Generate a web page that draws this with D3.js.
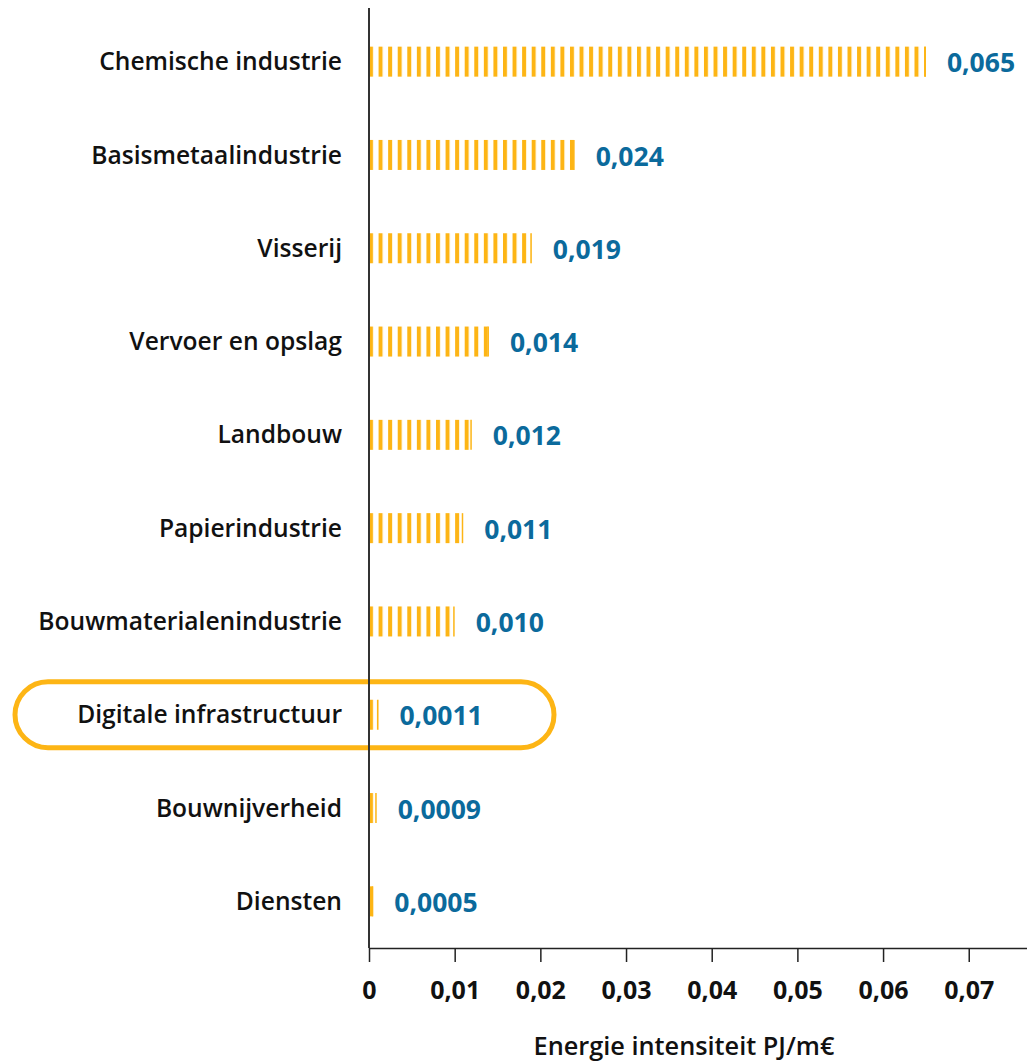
<!DOCTYPE html>
<html><head><meta charset="utf-8">
<script src="https://cdn.jsdelivr.net/npm/d3@7"></script>
<style>body{margin:0;background:#fff}svg{display:block}text{font-family:"Open Sans",sans-serif}</style>
</head><body><svg id="c" width="1027" height="1062"></svg>
<script>
const categories = ["Chemische industrie","Basismetaalindustrie","Visserij","Vervoer en opslag","Landbouw","Papierindustrie","Bouwmaterialenindustrie","Digitale infrastructuur","Bouwnijverheid","Diensten"];
const values = [0.065,0.024,0.019,0.014,0.012,0.011,0.010,0.0011,0.0009,0.0005];
const valueLabels = ["0,065","0,024","0,019","0,014","0,012","0,011","0,010","0,0011","0,0009","0,0005"];
const tickValues = [0,0.01,0.02,0.03,0.04,0.05,0.06,0.07];
const tickLabels = ["0","0,01","0,02","0,03","0,04","0,05","0,06","0,07"];
const highlighted = "Digitale infrastructuur";
const axisTitle = "Energie intensiteit PJ/m€";

const svg = d3.select("#c");
const X0 = 369, X1 = 1027, Y0 = 15, Y1 = 948;
const x = d3.scaleLinear().domain([0, 0.0768]).range([X0, X1]);
const y = d3.scaleBand().domain(categories).range([Y0, Y1]).paddingInner(0.68).paddingOuter(0.34);
const ORANGE = "#FDB515", BLUE = "#0B6A9C";

const defs = svg.append("defs");
const pat = defs.append("pattern").attr("id","stripes").attr("patternUnits","userSpaceOnUse")
  .attr("x", X0).attr("y", 0).attr("width", 9.57).attr("height", 10);
pat.append("rect").attr("x",0).attr("y",0).attr("width",4).attr("height",10).attr("fill",ORANGE);

// highlight rounded rect
const hy = y(highlighted) + y.bandwidth()/2;
svg.append("rect").attr("x",15).attr("y",hy-33).attr("width",539).attr("height",66)
  .attr("rx",33).attr("fill","none").attr("stroke",ORANGE).attr("stroke-width",5);

const g = svg.append("g");
categories.forEach((c,i)=>{
  const yc = y(c) + y.bandwidth()/2;
  const bh = 30;
  g.append("rect").attr("x",x(0)).attr("y",yc-bh/2).attr("width",x(values[i])-x(0)).attr("height",bh).attr("fill","url(#stripes)");
  g.append("line").attr("x1",x(values[i])-0.75).attr("x2",x(values[i])-0.75).attr("y1",yc-bh/2).attr("y2",yc+bh/2)
    .attr("stroke",ORANGE).attr("stroke-width",1.5);
  g.append("text").attr("x",X0-27).attr("y",yc).attr("dy","0.35em").attr("text-anchor","end")
    .attr("font-size",24.6).attr("font-weight",600).attr("fill","#111").text(c);
  g.append("text").attr("x",x(values[i])+21).attr("y",yc).attr("dy","0.4em")
    .attr("font-size",26.5).attr("font-weight",700).attr("fill",BLUE).text(valueLabels[i]);
});

// vertical axis line
svg.append("line").attr("x1",X0).attr("x2",X0).attr("y1",8).attr("y2",Y1).attr("stroke","#333").attr("stroke-width",2);

// x axis
const ax = svg.append("g").attr("transform",`translate(0,${Y1})`)
  .call(d3.axisBottom(x).tickValues(tickValues).tickFormat((d,i)=>tickLabels[i]).tickSize(14).tickPadding(19).tickSizeOuter(0));
ax.select(".domain").attr("stroke","#222").attr("stroke-width",1.5);
ax.selectAll(".tick line").attr("stroke","#222").attr("stroke-width",1.5);
ax.selectAll(".tick text").attr("font-size",25).attr("font-weight",700).attr("fill","#111").attr("font-family","Open Sans, sans-serif");

svg.append("text").attr("x",684).attr("y",1055).attr("text-anchor","middle")
  .attr("font-size",25.3).attr("font-weight",600).attr("fill","#111").text(axisTitle);
</script></body></html>
